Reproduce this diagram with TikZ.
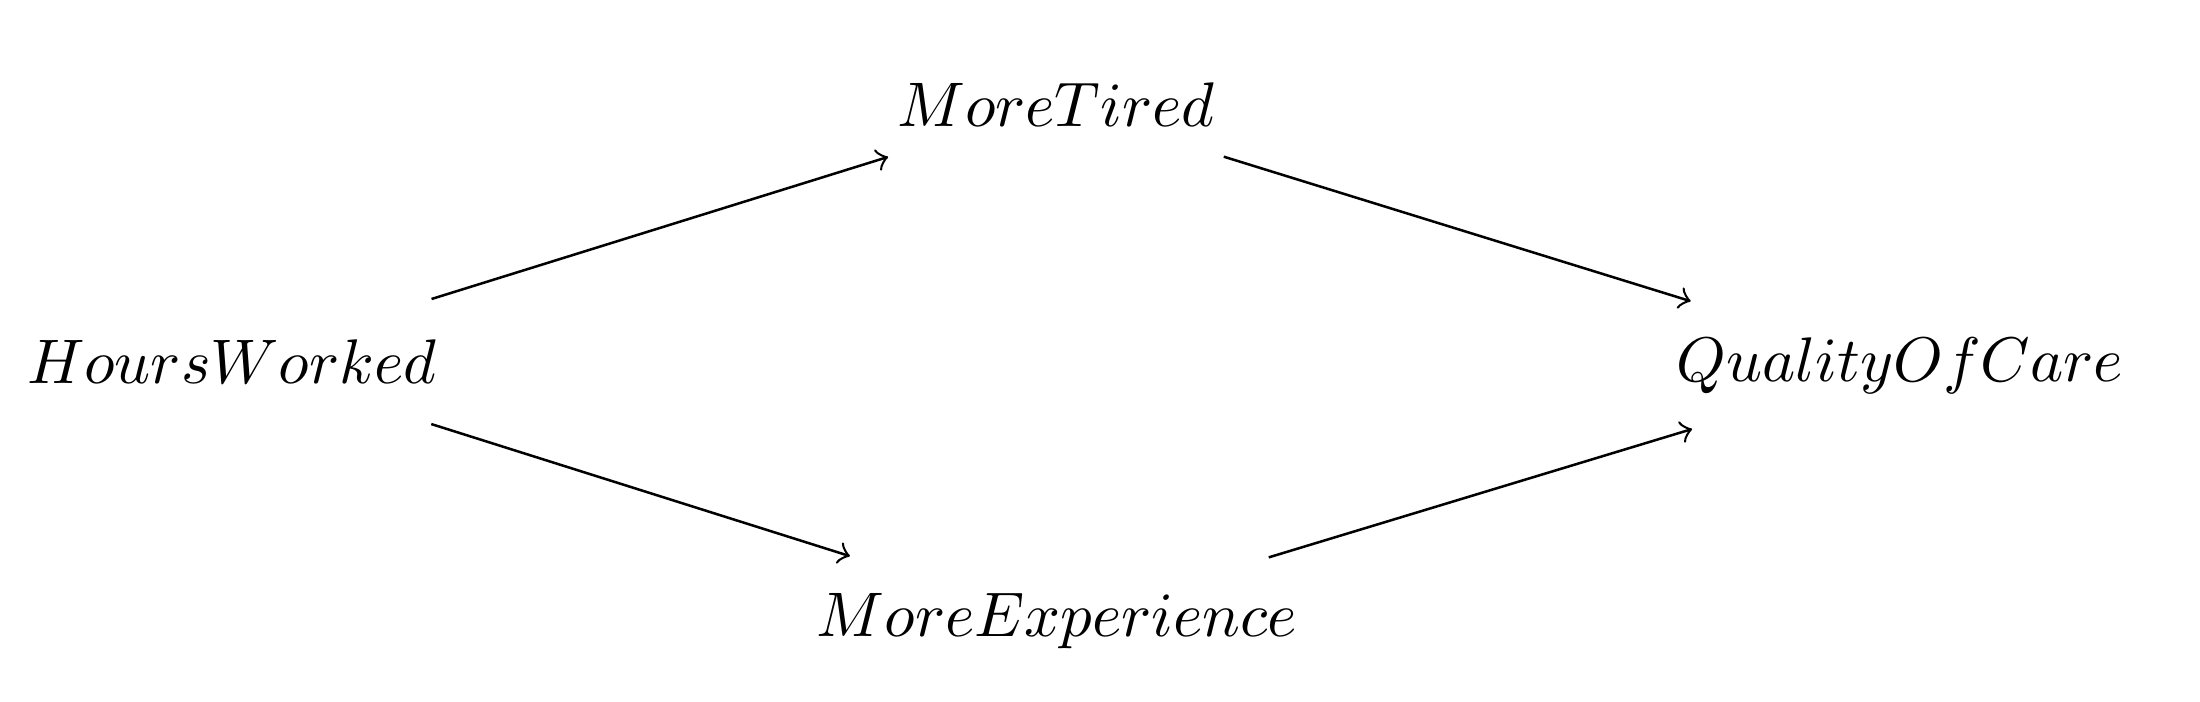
\documentclass[tikz,border=0pt]{standalone}
\usepackage{amssymb,amsfonts,amsmath}
\usepackage{tikz}

\begin{document}
\begin{tikzpicture}[>=to]
          \tikzstyle{every node}=[inner sep=0pt]
          \tikzstyle{var}=[anchor=base]
          \useasboundingbox (0,0) rectangle (349.2pt,111.4pt);
          % 
          \node [var] (hw) at (36.8pt,50.6pt)   {$HoursWorked$};
          \node [var] (mt) at (167.6pt,91.3pt)  {$MoreTired$};
          \node [var] (me) at (167.8pt,10.3pt)  {$MoreExperience$};
          \node [var] (qc) at (301.6pt,50.8pt)  {$QualityOfCare$};
          % 
          \path[->]
          (hw.center) edge [shorten <=33.2pt, shorten >=27.9pt] (mt.center)
          (mt.center) edge [shorten <=27.9pt, shorten >=34.8pt] (qc.center)
          (hw.center) edge [shorten <=33.2pt, shorten >=34.5pt] (me.center)
          (me.center) edge [shorten <=35.1pt, shorten >=34.5pt] (qc.center);
        \end{tikzpicture}
\end{document}
